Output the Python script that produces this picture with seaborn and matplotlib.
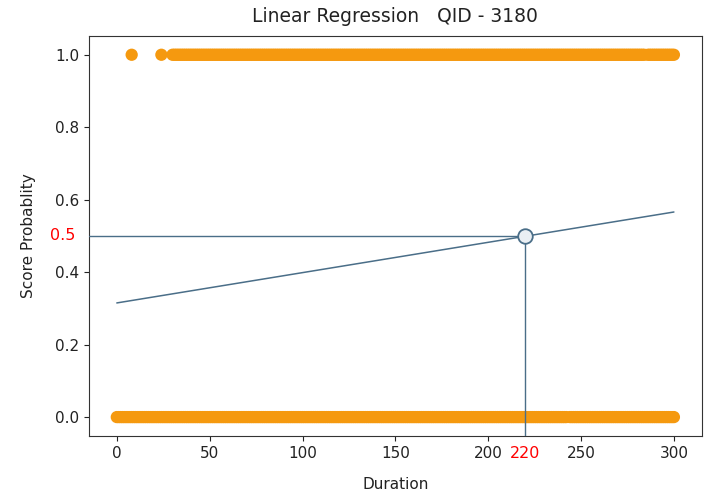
import numpy as np
import pandas as pd
import matplotlib
matplotlib.use("Agg")
import matplotlib.pyplot as plt
import seaborn as sns

pass_single = [8, 24]
pass_bands = [(30, 284), (286, 300)]
fail_single = []
fail_bands = [(0, 242), (244, 300)]

# fitted regression line end points
line_x = [0, 300]
line_y = [0.315, 0.566]

cut_x = 220
cut_y = 0.5


def expand(singles, bands):
    vals = list(singles)
    for a, b in bands:
        vals += list(range(a, b + 1))
    return vals


pass_x = expand(pass_single, pass_bands)
fail_x = expand(fail_single, fail_bands)
df = pd.DataFrame({
    "Duration": pass_x + fail_x,
    "Score": [1.0] * len(pass_x) + [0.0] * len(fail_x),
})

sns.set_style("ticks")
plt.rcParams["font.family"] = ["DejaVu Sans"]

fig = plt.figure(figsize=(7.06, 4.92), dpi=100)
ax = fig.add_axes([0.126, 0.114, 0.868, 0.813])

sns.scatterplot(data=df, x="Duration", y="Score", color="#f5990f", s=78,
                edgecolor="none", ax=ax, zorder=2)
sns.lineplot(x=line_x, y=line_y, color="#4a6e88", linewidth=1.1, ax=ax, zorder=3)

ax.set_xlim(-15, 315)
ax.set_ylim(-0.052, 1.052)

# threshold guide lines
ax.plot([-15, cut_x], [cut_y, cut_y], color="#4a6e88", linewidth=1.0, zorder=3)
ax.plot([cut_x, cut_x], [-0.052, cut_y], color="#4a6e88", linewidth=1.0, zorder=3)
ax.scatter([cut_x], [cut_y], s=110, facecolor="#eaeff3", edgecolor="#4a6e88",
           linewidth=1.3, zorder=4)

ax.text(-29, cut_y, "0.5", color="red", fontsize=11.5, ha="center", va="center",
        clip_on=False)
ax.text(cut_x, -0.10, "220", color="red", fontsize=11.5, ha="center", va="center",
        clip_on=False)

ax.set_xticks([0, 50, 100, 150, 200, 250, 300])
ax.set_yticks([0.0, 0.2, 0.4, 0.6, 0.8, 1.0])
ax.tick_params(labelsize=11, colors="#222222")
for s in ax.spines.values():
    s.set_visible(True)
    s.set_color("#333333")

ax.set_title("Linear Regression   QID - 3180", fontsize=13.5, color="#222222", pad=10)
ax.set_xlabel("Duration", fontsize=11, color="#222222", labelpad=12)
ax.set_ylabel("Score Probablity", fontsize=11, color="#222222", labelpad=14)

fig.savefig("out.png", dpi=100)
